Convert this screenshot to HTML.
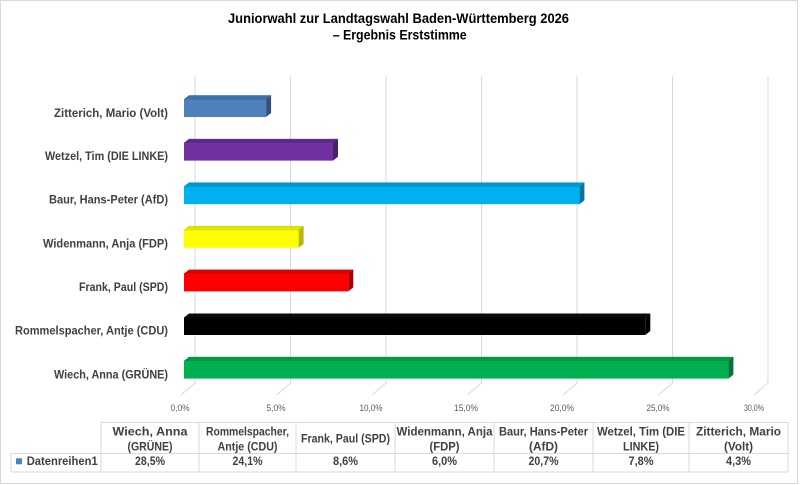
<!DOCTYPE html>
<html>
<head>
<meta charset="utf-8">
<style>
html,body{margin:0;padding:0;background:#fff;}
svg{display:block;}
text{font-family:"Liberation Sans",sans-serif;}
.cat{font-size:12px;font-weight:bold;fill:#404040;}
.tick{font-size:9px;fill:#595959;}
.th{font-size:12px;font-weight:bold;fill:#404040;}
.ttl{font-size:13.5px;font-weight:bold;fill:#000;}
</style>
</head>
<body>
<svg width="800" height="485" viewBox="0 0 800 485" xmlns="http://www.w3.org/2000/svg">
<rect x="0" y="0" width="800" height="485" fill="#fff"/>
<rect x="0.5" y="0.5" width="797" height="483" fill="none" stroke="#D9D9D9" stroke-width="1"/>

<!-- Title -->
<text class="ttl" x="398.5" y="23" text-anchor="middle" textLength="341" lengthAdjust="spacingAndGlyphs">Juniorwahl zur Landtagswahl Baden-Württemberg 2026</text>
<text class="ttl" x="399.7" y="39.5" text-anchor="middle" textLength="134" lengthAdjust="spacingAndGlyphs">– Ergebnis Erststimme</text>

<!-- Gridlines -->
<g stroke="#D9D9D9" stroke-width="1" fill="none">
<path d="M195,76 V383 L181,395"/>
<path d="M290.5,76 V383 L276.5,395"/>
<path d="M386,76 V383 L372,395"/>
<path d="M481.5,76 V383 L467.5,395"/>
<path d="M577,76 V383 L563,395"/>
<path d="M672.5,76 V383 L658.5,395"/>
<path d="M768,76 V383 L754,395"/>
</g>

<!-- Bars -->
<!-- Volt 4.3 -->
<g>
<polygon points="184,99.5 189,95.5 271.1,95.5 266.1,99.5" fill="#3F6FA8" stroke="#385D8A" stroke-width="0.5"/>
<polygon points="266.1,99.5 271.1,95.5 271.1,113 266.1,117" fill="#31527A"/>
<rect x="184" y="99.5" width="82.1" height="17.5" fill="#4F81BD"/>
</g>
<!-- Linke 7.8 -->
<g>
<polygon points="184,143.1 189,139.1 338,139.1 333,143.1" fill="#5F2888" stroke="#4F2270" stroke-width="0.5"/>
<polygon points="333,143.1 338,139.1 338,156.6 333,160.6" fill="#4A1F6B"/>
<rect x="184" y="143.1" width="149" height="17.5" fill="#7030A0"/>
</g>
<!-- AfD 20.7 -->
<g>
<polygon points="184,186.7 189,182.7 584.4,182.7 579.4,186.7" fill="#0098D0" stroke="#0088BB" stroke-width="0.5"/>
<polygon points="579.4,186.7 584.4,182.7 584.4,200.2 579.4,204.2" fill="#0078A6"/>
<rect x="184" y="186.7" width="395.4" height="17.5" fill="#00B0F0"/>
</g>
<!-- FDP 6.0 -->
<g>
<polygon points="184,230.3 189,226.3 303.6,226.3 298.6,230.3" fill="#E3E300" stroke="#CCCC00" stroke-width="0.5"/>
<polygon points="298.6,230.3 303.6,226.3 303.6,243.8 298.6,247.8" fill="#B8B800"/>
<rect x="184" y="230.3" width="114.6" height="17.5" fill="#FFFF00"/>
</g>
<!-- SPD 8.6 -->
<g>
<polygon points="184,273.9 189,269.9 353.3,269.9 348.3,273.9" fill="#DD0000" stroke="#C00000" stroke-width="0.5"/>
<polygon points="348.3,273.9 353.3,269.9 353.3,287.4 348.3,291.4" fill="#AD0000"/>
<rect x="184" y="273.9" width="164.3" height="17.5" fill="#FF0000"/>
</g>
<!-- CDU 24.1 -->
<g>
<polygon points="184,317.5 189,313.5 650.3,313.5 645.3,317.5" fill="#0A0A0A"/>
<polygon points="645.3,317.5 650.3,313.5 650.3,331 645.3,335" fill="#000"/>
<rect x="184" y="317.5" width="461.3" height="17.5" fill="#000000"/>
</g>
<!-- GRÜNE 28.5 -->
<g>
<polygon points="184,361.1 189,357.1 733.4,357.1 728.4,361.1" fill="#009A46" stroke="#007A38" stroke-width="0.5"/>
<polygon points="728.4,361.1 733.4,357.1 733.4,374.6 728.4,378.6" fill="#007436"/>
<rect x="184" y="361.1" width="544.4" height="17.5" fill="#00B050"/>
</g>

<!-- Category labels -->
<text class="cat" x="168" y="117" text-anchor="end" textLength="114" lengthAdjust="spacingAndGlyphs">Zitterich, Mario (Volt)</text>
<text class="cat" x="168" y="160" text-anchor="end" textLength="123" lengthAdjust="spacingAndGlyphs">Wetzel, Tim (DIE LINKE)</text>
<text class="cat" x="168" y="203.3" text-anchor="end" textLength="119" lengthAdjust="spacingAndGlyphs">Baur, Hans-Peter (AfD)</text>
<text class="cat" x="168" y="247.6" text-anchor="end" textLength="125" lengthAdjust="spacingAndGlyphs">Widenmann, Anja (FDP)</text>
<text class="cat" x="168" y="291" text-anchor="end" textLength="89" lengthAdjust="spacingAndGlyphs">Frank, Paul (SPD)</text>
<text class="cat" x="168" y="334.3" text-anchor="end" textLength="153" lengthAdjust="spacingAndGlyphs">Rommelspacher, Antje (CDU)</text>
<text class="cat" x="168" y="378.3" text-anchor="end" textLength="114" lengthAdjust="spacingAndGlyphs">Wiech, Anna (GRÜNE)</text>

<!-- Tick labels -->
<g class="tick" text-anchor="middle">
<text x="180" y="411" textLength="19" lengthAdjust="spacingAndGlyphs">0,0%</text>
<text x="276" y="411" textLength="19" lengthAdjust="spacingAndGlyphs">5,0%</text>
<text x="371" y="411" textLength="23" lengthAdjust="spacingAndGlyphs">10,0%</text>
<text x="466" y="411" textLength="24" lengthAdjust="spacingAndGlyphs">15,0%</text>
<text x="562" y="411" textLength="24" lengthAdjust="spacingAndGlyphs">20,0%</text>
<text x="658" y="411" textLength="23" lengthAdjust="spacingAndGlyphs">25,0%</text>
<text x="754" y="411" textLength="20" lengthAdjust="spacingAndGlyphs">30,0%</text>
</g>

<!-- Data table -->
<g stroke="#D9D9D9" stroke-width="1" fill="none">
<path d="M101,422.5 H788"/>
<path d="M11,453.5 H788"/>
<path d="M11,472 H788"/>
<path d="M11,453.5 V472"/>
<path d="M101,422.5 V472"/>
<path d="M199,422.5 V472"/>
<path d="M296,422.5 V472"/>
<path d="M395,422.5 V472"/>
<path d="M494,422.5 V472"/>
<path d="M593,422.5 V472"/>
<path d="M689,422.5 V472"/>
<path d="M788,422.5 V472"/>
</g>
<g class="th" text-anchor="middle">
<text x="150" y="435.3" textLength="75" lengthAdjust="spacingAndGlyphs">Wiech, Anna</text>
<text x="150" y="450.3" textLength="45" lengthAdjust="spacingAndGlyphs">(GRÜNE)</text>
<text x="247.5" y="435.3" textLength="83" lengthAdjust="spacingAndGlyphs">Rommelspacher,</text>
<text x="247.5" y="450.3" textLength="60" lengthAdjust="spacingAndGlyphs">Antje (CDU)</text>
<text x="345.5" y="442.6" textLength="89" lengthAdjust="spacingAndGlyphs">Frank, Paul (SPD)</text>
<text x="444.5" y="435.3" textLength="96" lengthAdjust="spacingAndGlyphs">Widenmann, Anja</text>
<text x="444.5" y="450.3" textLength="30" lengthAdjust="spacingAndGlyphs">(FDP)</text>
<text x="543.5" y="435.3" textLength="89" lengthAdjust="spacingAndGlyphs">Baur, Hans-Peter</text>
<text x="543.5" y="450.3" textLength="29" lengthAdjust="spacingAndGlyphs">(AfD)</text>
<text x="641" y="435.3" textLength="88" lengthAdjust="spacingAndGlyphs">Wetzel, Tim (DIE</text>
<text x="641" y="450.3" textLength="36" lengthAdjust="spacingAndGlyphs">LINKE)</text>
<text x="738.5" y="435.3" textLength="85" lengthAdjust="spacingAndGlyphs">Zitterich, Mario</text>
<text x="738.5" y="450.3" textLength="29" lengthAdjust="spacingAndGlyphs">(Volt)</text>

<text x="150" y="465" textLength="30" lengthAdjust="spacingAndGlyphs">28,5%</text>
<text x="247.5" y="465" textLength="30" lengthAdjust="spacingAndGlyphs">24,1%</text>
<text x="345.5" y="465" textLength="25" lengthAdjust="spacingAndGlyphs">8,6%</text>
<text x="444.5" y="465" textLength="25" lengthAdjust="spacingAndGlyphs">6,0%</text>
<text x="543.5" y="465" textLength="30" lengthAdjust="spacingAndGlyphs">20,7%</text>
<text x="641" y="465" textLength="25" lengthAdjust="spacingAndGlyphs">7,8%</text>
<text x="738.5" y="465" textLength="25" lengthAdjust="spacingAndGlyphs">4,3%</text>
</g>
<rect x="16" y="458.3" width="6" height="6" fill="#4F81BD"/>
<text class="th" x="26.7" y="465" textLength="71" lengthAdjust="spacingAndGlyphs">Datenreihen1</text>
</svg>
</body>
</html>
